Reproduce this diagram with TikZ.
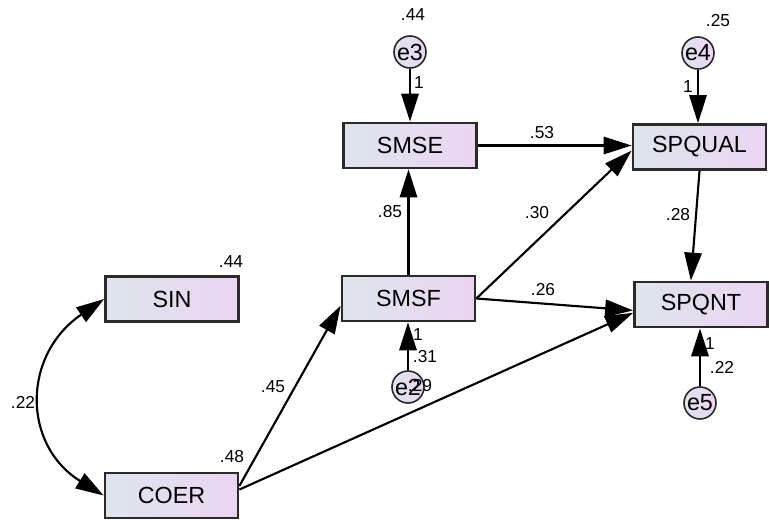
\documentclass[tikz,border=0pt]{standalone}
\usepackage{fontspec}
\setmainfont{Liberation Sans}
\usetikzlibrary{arrows.meta,calc}
\definecolor{boxleft}{HTML}{DEE4EC}
\definecolor{boxright}{HTML}{EBD5F3}
\definecolor{edgecol}{HTML}{2A2A2A}
\begin{document}
\begin{tikzpicture}[x=0.75pt,y=-0.75pt,
  var/.style={draw=edgecol, line width=1.8pt, left color=boxleft, right color=boxright,
    minimum width=100pt, minimum height=34pt, inner sep=0pt,
    font=\fontsize{17.5}{19}\selectfont},
  err/.style={circle, draw=edgecol, line width=1.2pt, left color=boxleft, right color=boxright,
    minimum size=24pt, inner sep=0pt, font=\fontsize{17.5}{18}\selectfont},
  regpath/.style={line width=1.6pt, -{Triangle[length=21pt,width=13pt]}},
  covpath/.style={line width=1.6pt, {Triangle[length=21pt,width=13pt]}-{Triangle[length=21pt,width=13pt]}},
  lbl/.style={inner sep=0pt, font=\fontsize{13}{14}\selectfont}]
\useasboundingbox (0,0) rectangle (769,525);

% observed variables
\node[var] (sin)    at (172,299)   {SIN};
\node[var] (coer)   at (171.5,495.5) {COER};
\node[var] (smsf)   at (408.5,298.5) {SMSF};
\node[var] (smse)   at (410,145.5) {SMSE};
\node[var] (spqual) at (699.5,147) {SPQUAL};
\node[var] (spqnt)  at (701,304.5) {SPQNT};

% error terms
\node[err] (e3) at (410,52)  {e3};
\node[err] (e4) at (698,53)  {e4};
\node[err] (e2) at (408,387) {e2};
\node[err] (e5) at (700,403) {e5};

% error paths
\draw[regpath] (e3) -- (e3 |- smse.north);
\draw[regpath] (e4) -- (e4 |- spqual.north);
\draw[regpath] (e2) -- (e2 |- smsf.south);
\draw[regpath] (e5) -- (e5 |- spqnt.south);

% structural paths
\draw[regpath] (smsf.north) -- (smsf.north |- smse.south);
\draw[regpath] (smse.east) -- (smse.east -| spqual.west);
\draw[regpath] (smsf.east) -- (spqual.183);
\draw[regpath] (smsf.east) -- (spqnt.185);
\draw[regpath] (coer.8) -- (smsf.186);
\draw[regpath] (coer.5) -- (spqnt.187);
\draw[regpath] (spqual.south) -- (spqnt.113);

% covariance
\draw[covpath] (sin.west) .. controls (22,355) and (22,445) .. (coer.west);

% estimates
\node[lbl] (v3)  at (413,15)  {.44};
\node[lbl] (v4)  at (718,21)  {.25};
\node[lbl] (vsin) at (231,262) {.44};
\node[lbl] (vcoer) at (232,457) {.48};
\node[lbl] (vsmsf) at (425,357) {.31};
\node[lbl] (ve2) at (420,386) {.29};
\node[lbl] (vspq) at (722,367) {.22};
\node[lbl] (w3)  at (419,83)  {1};
\node[lbl] (w4)  at (688,87)  {1};
\node[lbl] (w2)  at (418,335) {1};
\node[lbl] (w5)  at (710,344) {1};
\node[lbl] (cov) at (23,402)  {.22};
\node[lbl] (b1)  at (273,387) {.45};
\node[lbl] (b2)  at (390,212) {.85};
\node[lbl] (b3)  at (542,133) {.53};
\node[lbl] (b4)  at (537,213) {.30};
\node[lbl] (b5)  at (543,290) {.26};
\node[lbl] (b6)  at (678,215) {.28};
\end{tikzpicture}
\end{document}
